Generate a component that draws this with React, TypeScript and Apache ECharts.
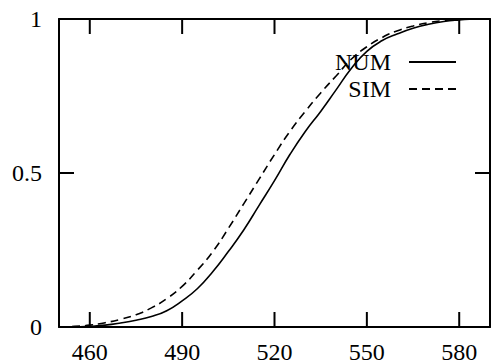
import React, { useEffect, useRef } from "react";
import * as echarts from "echarts";

const xValues = [450, 455, 460, 465, 470, 475, 480, 485, 490, 495, 500, 505, 510, 515, 520, 525, 530, 535, 540, 545, 550, 555, 560, 565, 570, 575, 580, 585, 590];
const numValues = [0, 0, 0.002, 0.006, 0.013, 0.022, 0.034, 0.053, 0.085, 0.125, 0.18, 0.245, 0.315, 0.395, 0.475, 0.56, 0.635, 0.7, 0.77, 0.84, 0.895, 0.93, 0.952, 0.97, 0.983, 0.992, 0.997, 1, 1];
const simValues = [0, 0.002, 0.006, 0.014, 0.025, 0.04, 0.062, 0.092, 0.132, 0.185, 0.245, 0.32, 0.4, 0.48, 0.56, 0.635, 0.7, 0.76, 0.815, 0.87, 0.91, 0.94, 0.962, 0.977, 0.988, 0.995, 0.999, 1, 1];
const xTicks = [460, 490, 520, 550, 580];
const yTicks = [0.5];
const X_MIN = 450;
const X_MAX = 590;
const seriesNames = ["NUM", "SIM"];

const FONT = "'Liberation Serif', 'Times New Roman', serif";
const TICK_LEN = 15;
const TICK_W = 2;

// tick marks: [x, y, dirX, dirY] (direction in pixels, pointing into the plot)
const tickData = [
  ...xTicks.map((v) => [v, 0, 0, -1]),
  ...xTicks.map((v) => [v, 1, 0, 1]),
  ...yTicks.map((v) => [X_MIN, v, 1, 0]),
  ...yTicks.map((v) => [X_MAX, v, -1, 0]),
];

export default function App() {
  const ref = useRef<HTMLDivElement>(null);
  useEffect(() => {
    if (!ref.current) return;
    const chart = echarts.init(ref.current, undefined, { renderer: "svg" });
    const axisLine = { show: true, onZero: false, lineStyle: { color: "#000", width: 2 } };
    chart.setOption({
      animation: false,
      backgroundColor: "#fff",
      textStyle: { fontFamily: FONT, color: "#000" },
      grid: { left: 59, right: 1, top: 19, bottom: 37, containLabel: false },
      legend: {
        orient: "vertical",
        align: "right",
        right: 34,
        top: 50,
        padding: 0,
        itemWidth: 47,
        itemHeight: 14,
        itemGap: 3,
        itemStyle: { color: "rgba(0,0,0,0)", borderWidth: 0, opacity: 0 },
        textStyle: { fontFamily: FONT, fontSize: 24, color: "#000", lineHeight: 24, padding: [0, 13, 0, 0] },
        data: seriesNames,
      },
      xAxis: [
        {
          type: "value",
          min: X_MIN,
          max: X_MAX,
          position: "bottom",
          axisLine,
          axisTick: { show: false },
          axisLabel: { customValues: xTicks, fontFamily: FONT, fontSize: 24, color: "#000", margin: 13 },
          splitLine: { show: false },
        },
        {
          type: "value",
          min: X_MIN,
          max: X_MAX,
          position: "top",
          axisLine,
          axisTick: { show: false },
          axisLabel: { show: false },
          splitLine: { show: false },
        },
      ],
      yAxis: [
        {
          type: "value",
          min: 0,
          max: 1,
          interval: 0.5,
          position: "left",
          axisLine,
          axisTick: { show: false },
          axisLabel: { fontFamily: FONT, fontSize: 24, color: "#000", margin: 17 },
          splitLine: { show: false },
        },
        {
          type: "value",
          min: 0,
          max: 1,
          interval: 0.5,
          position: "right",
          axisLine,
          axisTick: { show: false },
          axisLabel: { show: false },
          splitLine: { show: false },
        },
      ],
      series: [
        {
          name: seriesNames[0],
          type: "line",
          smooth: true,
          symbol: "none",
          data: xValues.map((x, i) => [x, numValues[i]]),
          lineStyle: { color: "#000", width: 1.6, type: "solid" },
          itemStyle: { color: "#000" },
        },
        {
          name: seriesNames[1],
          type: "line",
          smooth: true,
          symbol: "none",
          data: xValues.map((x, i) => [x, simValues[i]]),
          lineStyle: { color: "#000", width: 1.6, type: [8, 5] },
          itemStyle: { color: "#000" },
        },
        {
          name: "ticks",
          type: "custom",
          silent: true,
          clip: false,
          z: 10,
          xAxisIndex: 0,
          yAxisIndex: 0,
          data: tickData,
          encode: { x: 0, y: 1 },
          renderItem: (params: any, api: any) => {
            const p = api.coord([api.value(0), api.value(1)]);
            const dx = api.value(2);
            const dy = api.value(3);
            const x0 = dx === 0 ? p[0] - TICK_W / 2 : dx > 0 ? p[0] : p[0] - TICK_LEN;
            const y0 = dy === 0 ? p[1] - TICK_W / 2 : dy > 0 ? p[1] : p[1] - TICK_LEN;
            const w = dx === 0 ? TICK_W : TICK_LEN;
            const h = dy === 0 ? TICK_W : TICK_LEN;
            return {
              type: "rect",
              shape: { x: x0, y: y0, width: w, height: h },
              style: { fill: "#000" },
            };
          },
        },
      ],
    });
    return () => chart.dispose();
  }, []);
  return <div ref={ref} style={{ width: 491, height: 364, position: "absolute", left: 0, top: 0 }} />;
}
